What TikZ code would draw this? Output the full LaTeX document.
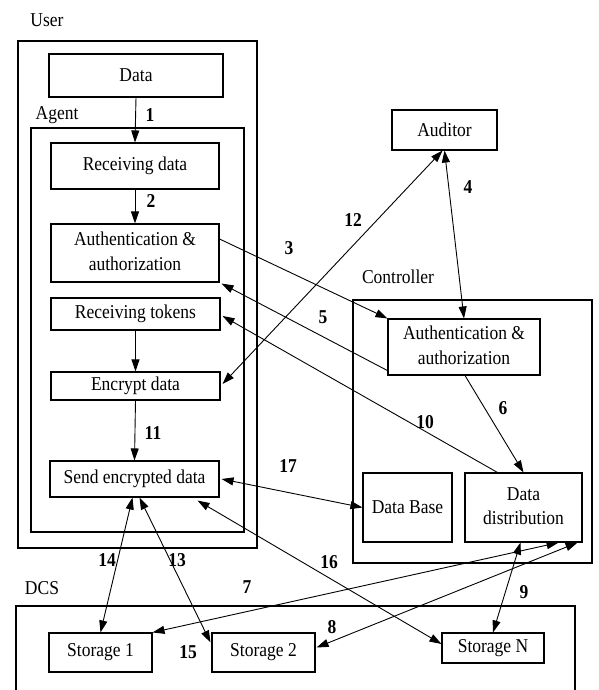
\documentclass[tikz,border=0pt]{standalone}
\usepackage{fontspec}
\usepackage{graphicx}
\setmainfont{Liberation Serif}
\usetikzlibrary{arrows.meta,calc}
\newcommand{\vstr}[1]{\scalebox{1}[1.12]{#1}}
\newcommand{\twol}[2]{\vstr{\begin{tabular}{@{}c@{}}#1\\#2\end{tabular}}}
\begin{document}
\begin{tikzpicture}[x=1pt,y=-1pt,
  every node/.style={font=\fontsize{17.5}{22}\selectfont},
  box/.style={draw, line width=1.1pt, inner sep=0pt, align=center},
  frame/.style={draw, line width=1.1pt, inner sep=0pt},
  conn/.style={line width=0.9pt, -{Triangle[length=12pt,width=8pt]}},
  bi/.style={line width=0.9pt, {Triangle[length=12pt,width=8pt]}-{Triangle[length=12pt,width=8pt]}},
  num/.style={font=\fontsize{17.5}{20}\selectfont\bfseries, inner sep=0pt},
  ttl/.style={inner sep=0pt}
]
\useasboundingbox (0,0) rectangle (598,690);

% containers
\node[frame, minimum width=239pt, minimum height=507pt] (user) at (137.5,294.5) {};
\node[frame, minimum width=213pt, minimum height=404pt] (agent) at (137.5,330) {};
\node[frame, minimum width=239pt, minimum height=263pt] (ctrl) at (472.5,431.5) {};
\coordinate (dcsbl) at (16,690);
\coordinate (dcsbr) at (575,690);
\draw[line width=1.1pt] (dcsbl) -- (16,606) -- (575,606) -- (dcsbr);

\node[ttl] (userlbl) at (47,20) {\vstr{User}};
\node[ttl] (agentlbl) at (57,115) {\vstr{Agent}};
\node[ttl] (ctrllbl) at (398,277) {\vstr{Controller}};
\node[ttl] (dcslbl) at (42,588) {\vstr{DCS}};

% boxes
\node[box, minimum width=174pt, minimum height=43pt] (data) at (136,75.5) {\vstr{Data}};
\node[box, minimum width=168pt, minimum height=46pt] (recv) at (135,166) {\vstr{Receiving data}};
\node[box, minimum width=168pt, minimum height=58pt] (auth1) at (135,253) {\twol{Authentication \&}{authorization}};
\node[box, minimum width=169pt, minimum height=32pt] (tokens) at (135.5,314) {\vstr{Receiving tokens}};
\node[box, minimum width=169pt, minimum height=28pt] (encrypt) at (135.5,386) {\vstr{Encrypt data}};
\node[box, minimum width=169pt, minimum height=36pt] (send) at (134.5,479) {\vstr{Send encrypted data}};
\node[box, minimum width=105pt, minimum height=40pt] (auditor) at (444.5,130) {\vstr{Auditor}};
\node[box, minimum width=152pt, minimum height=56pt] (auth2) at (464,347) {\twol{Authentication \&}{authorization}};
\node[box, minimum width=89pt, minimum height=69pt] (db) at (407.5,507.5) {\vstr{Data Base}};
\node[box, minimum width=117pt, minimum height=69pt] (dist) at (523.5,507.5) {\twol{Data}{distribution}};
\node[box, minimum width=103pt, minimum height=39pt] (s1) at (100.5,652.5) {\vstr{Storage 1}};
\node[box, minimum width=103pt, minimum height=39pt] (s2) at (263.5,652.5) {\vstr{Storage 2}};
\node[box, minimum width=102pt, minimum height=30pt] (sN) at (493,648) {\vstr{Storage N}};

% connectors
\draw[conn] (data.south) -- (recv.north);
\draw[conn] (recv.south) -- (auth1.north);
\draw[conn] (tokens.south) -- (encrypt.north);
\draw[conn] (encrypt.south) -- (send.north);
\draw[conn] ($(auth1.east)+(0,-14)$) -- (auth2.north west);
\draw[conn] ($(auth2.south west)+(0,-5)$) -- ($(auth1.south east)+(2,1)$);
\draw[conn] ($(dist.north west)+(33,0)$) -- ($(tokens.east)+(2,2)$);
\draw[conn] ($(auth2.south)+(1,0)$) -- (dist.north);
\draw[bi] (auditor.south) -- (auth2.north);
\draw[bi] ($(encrypt.east)+(2,-2)$) -- ($(auditor.south)+(-2,0)$);
\draw[bi] ($(send.east)+(2,0)$) -- (db.west);
\draw[bi] ($(send.south east)+(-22,3)$) -- ($(sN.west)+(0,-4)$);
\draw[bi] ($(send.south)+(-2,0)$) -- (s1.north);
\draw[bi] ($(send.south)+(5,0)$) -- ($(s2.north west)+(-1,10)$);
\draw[bi] ($(dist.south east)+(-24,0)$) -- (s1.north east);
\draw[bi] ($(dist.south east)+(-5,0)$) -- ($(s2.east)+(1,-5)$);
\draw[bi] ($(dist.south)+(-3,0)$) -- (sN.north);

% labels
\node[num] (n1) at (150,115) {\vstr{1}};
\node[num] (n2) at (151,201) {\vstr{2}};
\node[num] (n11) at (153,433) {\vstr{11}};
\node[num] (n3) at (289,248) {\vstr{3}};
\node[num] (n12) at (353,220) {\vstr{12}};
\node[num] (n4) at (468,187) {\vstr{4}};
\node[num] (n5) at (323,317) {\vstr{5}};
\node[num] (n10) at (425,422) {\vstr{10}};
\node[num] (n6) at (503,408) {\vstr{6}};
\node[num] (n17) at (288,466) {\vstr{17}};
\node[num] (n16) at (329,562) {\vstr{16}};
\node[num] (n14) at (107,560) {\vstr{14}};
\node[num] (n13) at (177,560) {\vstr{13}};
\node[num] (n7) at (247,587) {\vstr{7}};
\node[num] (n8) at (332,627) {\vstr{8}};
\node[num] (n9) at (524,592) {\vstr{9}};
\node[num] (n15) at (188,652) {\vstr{15}};
\end{tikzpicture}
\end{document}
